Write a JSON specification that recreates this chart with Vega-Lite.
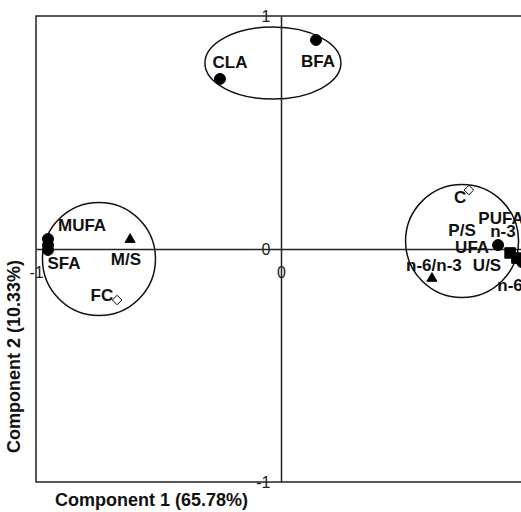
{
  "$schema": "https://vega.github.io/schema/vega-lite/v6.json",
  "width": 490,
  "height": 466,
  "autosize": {"type": "none"},
  "padding": {"left": 36, "top": 16, "right": 0, "bottom": 30},
  "background": "white",
  "config": {
    "view": {"stroke": "#222", "strokeWidth": 1.5},
    "font": "Liberation Sans"
  },
  "datasets": {
    "ellipse": [{"x": -0.033, "y": 0.798}],
    "circles": [{"x": -0.743, "y": -0.043}, {"x": 0.739, "y": 0.034}],
    "markers": [
      {"x": 0.143, "y": 0.897, "kind": "dot"},
      {"x": -0.249, "y": 0.730, "kind": "dot"},
      {"x": -0.951, "y": 0.043, "kind": "dot"},
      {"x": -0.951, "y": 0.017, "kind": "dot"},
      {"x": -0.951, "y": -0.004, "kind": "dot"},
      {"x": -0.616, "y": 0.047, "kind": "triangle"},
      {"x": -0.669, "y": -0.219, "kind": "diamond"},
      {"x": 0.767, "y": 0.253, "kind": "diamond"},
      {"x": 0.886, "y": 0.017, "kind": "dot"},
      {"x": 0.935, "y": -0.017, "kind": "square"},
      {"x": 0.963, "y": -0.039, "kind": "square"},
      {"x": 0.984, "y": -0.056, "kind": "dot"},
      {"x": 0.616, "y": -0.120, "kind": "triangle"}
    ],
    "labels": [
      {"x": 0.151, "y": 0.803, "label": "BFA"},
      {"x": -0.208, "y": 0.798, "label": "CLA"},
      {"x": -0.812, "y": 0.099, "label": "MUFA"},
      {"x": -0.886, "y": -0.064, "label": "SFA"},
      {"x": -0.633, "y": -0.047, "label": "M/S"},
      {"x": -0.731, "y": -0.202, "label": "FC"},
      {"x": 0.731, "y": 0.219, "label": "C"},
      {"x": 0.898, "y": 0.129, "label": "PUFA"},
      {"x": 0.906, "y": 0.073, "label": "n-3"},
      {"x": 0.739, "y": 0.077, "label": "P/S"},
      {"x": 0.780, "y": 0.004, "label": "UFA"},
      {"x": 0.841, "y": -0.073, "label": "U/S"},
      {"x": 0.624, "y": -0.073, "label": "n-6/n-3"},
      {"x": 0.935, "y": -0.159, "label": "n-6"}
    ]
  },
  "encoding": {
    "x": {
      "field": "x", "type": "quantitative",
      "scale": {"domain": [-1, 1], "nice": false, "zero": false},
      "axis": {
        "orient": "bottom", "offset": -233, "values": [-1, 0, 1],
        "labelExpr": "'' + round(datum.value)",
        "labelFlush": false, "labelOverlap": false, "labelBound": false,
        "ticks": false, "grid": false, "domainColor": "#222", "domainWidth": 1.5,
        "labelPadding": 15, "labelFontSize": 16, "labelColor": "#222", "labelFont": "Liberation Sans",
        "title": "Component 1 (65.78%)", "titleFontSize": 18, "titleFontWeight": "bold",
        "titleFont": "Liberation Sans", "titleColor": "#111",
        "titleX": 115, "titleY": 251, "titleBaseline": "middle", "titleAlign": "center"
      }
    },
    "y": {
      "field": "y", "type": "quantitative",
      "scale": {"domain": [-1, 1], "nice": false, "zero": false},
      "axis": {
        "orient": "left", "offset": -245, "values": [-1, 0, 1],
        "labelExpr": "'' + round(datum.value)",
        "labelFlush": false, "labelOverlap": false, "labelBound": false,
        "ticks": false, "grid": false, "domainColor": "#222", "domainWidth": 1.5,
        "labelPadding": 11, "labelFontSize": 16, "labelColor": "#222", "labelFont": "Liberation Sans",
        "labelAlign": "right", "labelBaseline": "middle",
        "title": "Component 2 (10.33%)", "titleFontSize": 18, "titleFontWeight": "bold",
        "titleFont": "Liberation Sans", "titleColor": "#111", "titleAngle": -90,
        "titleX": -267, "titleY": 340, "titleBaseline": "middle", "titleAlign": "center"
      }
    }
  },
  "layer": [
    {
      "data": {"name": "ellipse"},
      "mark": {
        "type": "point", "filled": false, "stroke": "#111", "strokeWidth": 1.5, "opacity": 1,
        "shape": "M -1 0 A 1 0.53 0 1 1 1 0 A 1 0.53 0 1 1 -1 0 Z", "size": 18496
      }
    },
    {
      "data": {"name": "circles"},
      "mark": {
        "type": "point", "filled": false, "stroke": "#111", "strokeWidth": 1.5, "opacity": 1,
        "shape": "circle", "size": 12769
      }
    },
    {
      "data": {"name": "markers"},
      "mark": {"type": "point", "filled": true, "stroke": "black", "strokeWidth": 1, "opacity": 1},
      "encoding": {
        "shape": {
          "field": "kind", "type": "nominal",
          "scale": {"domain": ["dot", "square", "triangle", "diamond"], "range": ["circle", "square", "triangle-up", "diamond"]},
          "legend": null
        },
        "fill": {
          "field": "kind", "type": "nominal",
          "scale": {"domain": ["dot", "square", "triangle", "diamond"], "range": ["black", "black", "black", "white"]},
          "legend": null
        },
        "size": {
          "field": "kind", "type": "nominal",
          "scale": {"domain": ["dot", "square", "triangle", "diamond"], "range": [120, 90, 100, 60]},
          "legend": null
        }
      }
    },
    {
      "data": {"name": "labels"},
      "mark": {"type": "text", "font": "Liberation Sans", "fontWeight": "bold", "fontSize": 17, "color": "#111", "align": "center", "baseline": "middle"},
      "encoding": {"text": {"field": "label"}}
    }
  ]
}
